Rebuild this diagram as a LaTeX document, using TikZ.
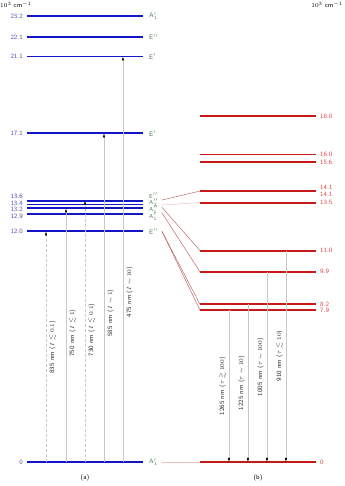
\documentclass[tikz,border=0pt]{standalone}
\usepackage{amssymb}
\usetikzlibrary{arrows.meta}

\definecolor{levA}{RGB}{20,20,200}
\definecolor{numA}{RGB}{80,80,170}
\definecolor{symA}{RGB}{80,125,80}
\definecolor{levB}{RGB}{200,25,25}
\definecolor{numB}{RGB}{225,70,70}
\definecolor{trans}{RGB}{200,200,200}
\definecolor{link}{RGB}{185,80,80}
\definecolor{linkl}{RGB}{235,190,190}

\tikzset{
  levelA/.style={line width=1.9pt, levA},
  levelB/.style={line width=1.9pt, levB},
  numlabA/.style={numA, anchor=east, inner sep=0pt},
  numlabB/.style={numB, anchor=west, inner sep=0pt},
  symlab/.style={symA, anchor=west, inner sep=0pt},
  symsmall/.style={symlab, font=\sffamily\fontsize{5.8}{6}\selectfont},
  transline/.style={trans, line width=0.5pt, -{Latex[length=4pt,width=2.4pt,color=black]}},
  translab/.style={rotate=90, inner sep=0pt, black!85},
  linkline/.style={link, line width=0.4pt},
}

\begin{document}
\begin{tikzpicture}[x=1pt, y=19.22pt,
  font=\sffamily\fontsize{6.5}{7}\selectfont]

    \useasboundingbox (0,-1.249) rectangle (345,24.04);

    % 1. Left levels (a)
    \foreach \e/\nm in {0/0, 12.0/120, 12.9/129, 13.2/132, 13.4/134,
                        13.6/136, 17.1/171, 21.1/211, 22.1/221, 23.2/232}
    {
      \draw[levelA] (27,\e) coordinate (a\nm w) -- (143,\e) coordinate (a\nm e);
    }

    % 2. Right levels (b)
    \foreach \e/\nm in {0/0, 7.9/79, 8.2/82, 9.9/99, 11.0/110,
                        13.5/135, 14.1/141, 15.6/156, 16.0/160, 18.0/180}
    {
      \draw[levelB] (200,\e) coordinate (b\nm w) -- (316,\e) coordinate (b\nm e);
    }

    % 3. Energies, left
    \node[numlabA] (na0)   at (23,0)     {0};
    \node[numlabA] (na120) at (23,12.0)  {12.0};
    \node[numlabA] (na129) at (23,12.80) {12.9};
    \node[numlabA] (na132) at (23,13.14) {13.2};
    \node[numlabA] (na134) at (23,13.48) {13.4};
    \node[numlabA] (na136) at (23,13.82) {13.6};
    \node[numlabA] (na171) at (23,17.1)  {17.1};
    \node[numlabA] (na211) at (23,21.1)  {21.1};
    \node[numlabA] (na221) at (23,22.1)  {22.1};
    \node[numlabA] (na232) at (23,23.2)  {23.2};

    % 4. Symmetries, left
    \node[symlab]   (s0)   at (149,0)     {A$'_1$};
    \node[symlab]   (s120) at (149,12.0)  {E$''$};
    \node[symsmall] (s129) at (149,12.78) {A$'_1$};
    \node[symsmall] (s132) at (149,13.14) {A$''_1$};
    \node[symsmall] (s134) at (149,13.50) {A$''_2$};
    \node[symsmall] (s136) at (149,13.86) {E$''$};
    \node[symlab]   (s171) at (149,17.1)  {E$'$};
    \node[symlab]   (s211) at (149,21.1)  {E$'$};
    \node[symlab]   (s221) at (149,22.1)  {E$''$};
    \node[symlab]   (s232) at (149,23.2)  {A$'_1$};

    % 5. Energies, right
    \node[numlabB] (nb0)   at (320,0)     {0};
    \node[numlabB] (nb79)  at (320,7.9)   {7.9};
    \node[numlabB] (nb82)  at (320,8.2)   {8.2};
    \node[numlabB] (nb99)  at (320,9.9)   {9.9};
    \node[numlabB] (nb110) at (320,11.0)  {11.0};
    \node[numlabB] (nb135) at (320,13.5)  {13.5};
    \node[numlabB] (nb141) at (320,13.95) {14.1};
    \node[numlabB] (nb14b) at (320,14.27) {14.1};
    \node[numlabB] (nb156) at (320,15.6)  {15.6};
    \node[numlabB] (nb160) at (320,16.0)  {16.0};
    \node[numlabB] (nb180) at (320,18.0)  {18.0};

    % 6. Units
    \node[anchor=west, inner sep=0pt] (unitA) at (0,23.78)   {$10^3$ cm$^{-1}$};
    \node[anchor=east, inner sep=0pt] (unitB) at (343,23.78) {$10^3$ cm$^{-1}$};

    % 7. Correlation lines (a) -> (b)
    \coordinate (c136) at (162,13.63);
    \coordinate (c134) at (162,13.37);
    \coordinate (c132) at (162,13.25);
    \coordinate (c129) at (162,12.96);
    \coordinate (c120) at (162,12.0);
    \coordinate (c0)   at (162,0);
    \draw[linkline] (c136) -- (b141w);
    \draw[linkl, line width=0.5pt] (c134) -- (b135w);
    \draw[linkline] (c132) -- (b110w);
    \draw[linkline] (c129) -- (b99w);
    \draw[linkline] (c120) -- (b82w);
    \draw[linkline] (c120) -- (b79w);
    \draw[linkl, line width=0.5pt] (c0) -- (b0w);

    % 8. Absorption (a)
    \coordinate (t835) at (46,12.0);  \coordinate (f835) at (46,0);
    \coordinate (t750) at (66,13.2);  \coordinate (f750) at (66,0);
    \coordinate (t730) at (85,13.6);  \coordinate (f730) at (85,0);
    \coordinate (t585) at (104,17.1); \coordinate (f585) at (104,0);
    \coordinate (t475) at (123,21.1); \coordinate (f475) at (123,0);

    \draw[transline, dash pattern=on 3pt off 2pt] (f835) -- (t835);
    \draw[transline] (f750) -- (t750);
    \draw[transline, dash pattern=on 3pt off 2pt] (f730) -- (t730);
    \draw[transline] (f585) -- (t585);
    \draw[transline] (f475) -- (t475);

    \node[translab] (l835) at (52.5,5.98) {835 nm ($I \lesssim 0.1$)};
    \node[translab] (l750) at (72.5,6.71) {750 nm ($I \lesssim 1$)};
    \node[translab] (l730) at (91.5,6.87) {730 nm ($I \lesssim 0.1$)};
    \node[translab] (l585) at (110.5,7.75) {585 nm ($I \sim 1$)};
    \node[translab] (l475) at (129.5,8.85) {475 nm ($I \sim 10$)};

    % 9. Emission (b)
    \coordinate (e1265) at (229,7.9);  \coordinate (g1265) at (229,0);
    \coordinate (e1225) at (248,8.2);  \coordinate (g1225) at (248,0);
    \coordinate (e1005) at (267,9.9);  \coordinate (g1005) at (267,0);
    \coordinate (e910)  at (286,11.0); \coordinate (g910)  at (286,0);

    \foreach \p in {1265, 1225, 1005, 910}
      \draw[transline] (e\p) -- (g\p);

    \node[translab] (l1265) at (222.5,3.95) {1265 nm ($\tau \gtrsim 100$)};
    \node[translab] (l1225) at (241.5,4.11) {1225 nm ($\tau \sim 10$)};
    \node[translab] (l1005) at (260.5,4.94) {1005 nm ($\tau \sim 100$)};
    \node[translab] (l910)  at (279.5,5.52) {910 nm ($\tau \lesssim 10$)};

    % 10. Captions
    \node (capA) at (85,-0.83)  {(a)};
    \node (capB) at (258,-0.83) {(b)};

\end{tikzpicture}
\end{document}
